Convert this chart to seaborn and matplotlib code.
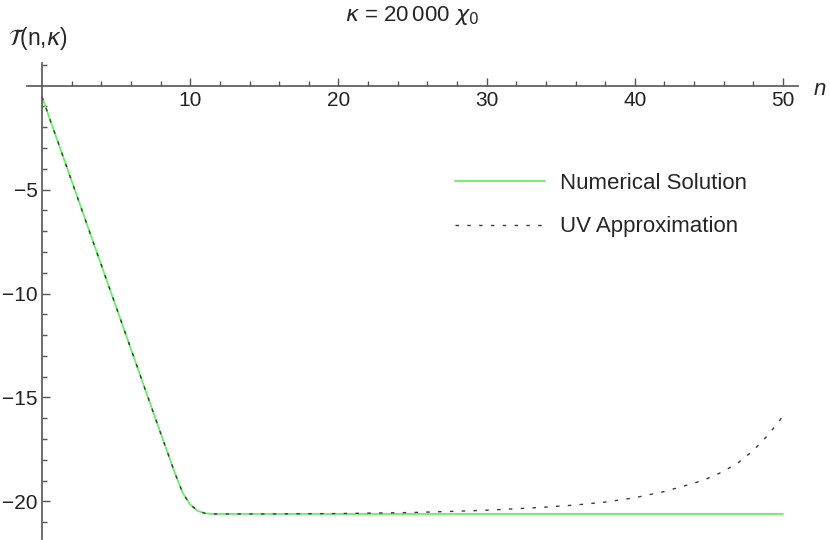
import numpy as np
import pandas as pd
import matplotlib
matplotlib.use("Agg")
import matplotlib.pyplot as plt
import seaborn as sns
from matplotlib.ticker import FixedLocator

# values
n_num = [0, 1, 2, 3, 4, 5, 6, 7, 8, 9, 9.5, 10, 10.5, 11, 11.5, 12, 15, 20, 25, 30, 35, 40, 45, 50]
t_num = [-0.55, -2.57, -4.59, -6.61, -8.63, -10.65, -12.67, -14.69, -16.71, -18.7, -19.6,
         -20.15, -20.45, -20.57, -20.6, -20.6, -20.6, -20.6, -20.6, -20.6, -20.6, -20.6, -20.6, -20.6]

n_uv = [0, 1, 2, 3, 4, 5, 6, 7, 8, 9, 9.5, 10, 10.5, 11, 11.5, 12, 15, 20, 25, 28, 30, 32, 34, 36,
        38, 40, 42, 44, 45, 46, 47, 48, 49, 50]
t_uv = [-0.55, -2.57, -4.59, -6.61, -8.63, -10.65, -12.67, -14.69, -16.71, -18.7, -19.6,
        -20.15, -20.45, -20.57, -20.6, -20.6, -20.6, -20.58, -20.53, -20.47, -20.42, -20.35,
        -20.27, -20.17, -20.03, -19.82, -19.52, -19.12, -18.87, -18.55, -18.12, -17.55, -16.8, -15.9]

x_major = [10, 20, 30, 40, 50]
x_minor = [2, 4, 6, 8, 12, 14, 16, 18, 22, 24, 26, 28, 32, 34, 36, 38, 42, 44, 46, 48]
y_major = [-5, -10, -15, -20]
y_minor = [1, -1, -2, -3, -4, -6, -7, -8, -9, -11, -12, -13, -14, -16, -17, -18, -19, -21]

df_num = pd.DataFrame({"n": n_num, "T": t_num})
df_uv = pd.DataFrame({"n": n_uv, "T": t_uv})

sns.set_style("white")
plt.rcParams["font.family"] = ["Liberation Sans", "DejaVu Sans"]
plt.rcParams["mathtext.fontset"] = "dejavusans"

fig = plt.figure(figsize=(8.3, 5.4), dpi=100)
ax = fig.add_axes([0.0328, 0.002, 0.9284, 0.882])

sns.lineplot(data=df_num, x="n", y="T", ax=ax, color="#66f066", lw=1.3,
             label="Numerical Solution")
sns.lineplot(data=df_uv, x="n", y="T", ax=ax, color="#3a3a3a", lw=1.0,
             linestyle=(0, (2.5, 6)), label="UV Approximation")

ax.set_xlim(-1, 51)
ax.set_ylim(-21.8, 1.1)
ax.set_xlabel("")
ax.set_ylabel("")

for s in ["top", "right"]:
    ax.spines[s].set_visible(False)
ax.spines["left"].set_position(("data", 0))
ax.spines["bottom"].set_position(("data", 0))
for s in ["left", "bottom"]:
    ax.spines[s].set_color("#555555")
    ax.spines[s].set_linewidth(1.2)

ax.xaxis.set_major_locator(FixedLocator(x_major))
ax.xaxis.set_minor_locator(FixedLocator(x_minor))
ax.yaxis.set_major_locator(FixedLocator(y_major))
ax.yaxis.set_minor_locator(FixedLocator(y_minor))
ax.tick_params(which="both", direction="in", color="#555555", labelsize=15,
               labelcolor="#222222", bottom=True, left=True)
ax.tick_params(which="major", length=6, width=1.0)
ax.tick_params(which="minor", length=3.5, width=1.0)
ax.tick_params(axis="x", pad=4)
ax.tick_params(axis="y", pad=3)

leg = ax.legend(loc="upper left", bbox_to_anchor=(0.529, 0.81), frameon=False,
                fontsize=16, handlelength=4.05, handletextpad=0.7, labelspacing=1.0)

fig.text(0.497, 0.972, r"$\kappa$ = 20$\,$000 $\chi_0$", ha="center", va="center", fontsize=16)
fig.text(0.01, 0.928, r"$\mathcal{T}$(n,$\kappa$)", ha="left", va="center", fontsize=16.5)
fig.text(0.988, 0.835, "n", ha="center", va="center", fontsize=16, style="italic")

fig.savefig("out.png", dpi=100)
